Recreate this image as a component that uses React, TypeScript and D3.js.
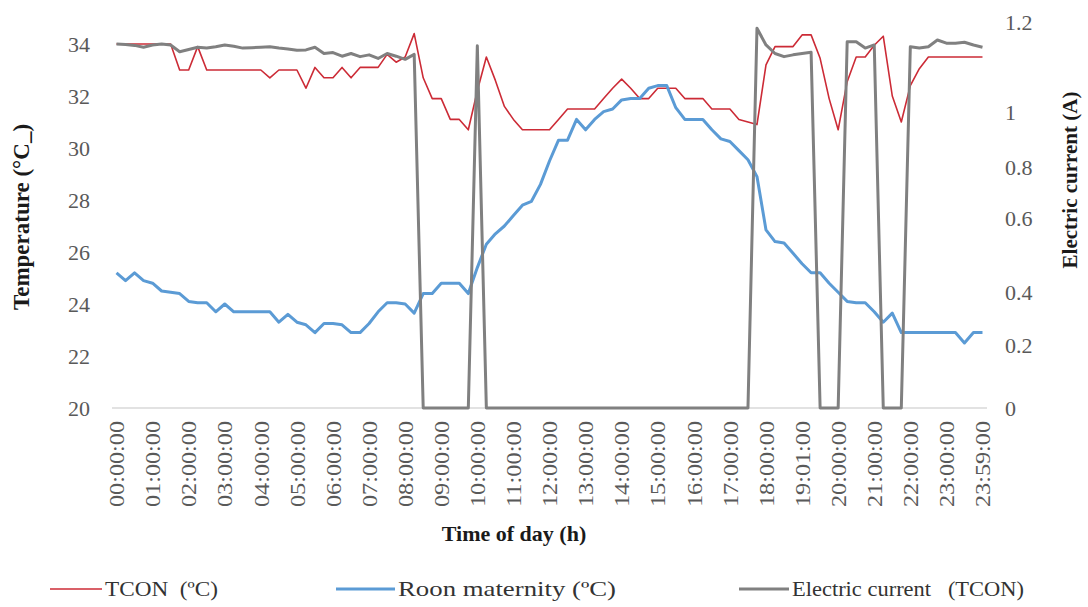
import React from 'react';
import * as d3 from 'd3';

const tickLabels = [
  '00:00:00', '01:00:00', '02:00:00', '03:00:00', '04:00:00', '05:00:00', '06:00:00',
  '07:00:00', '08:00:00', '09:00:00', '10:00:00', '11:00:00', '12:00:00', '13:00:00',
  '14:00:00', '15:00:00', '16:00:00', '17:00:00', '18:00:00', '19:01:00', '20:00:00',
  '21:00:00', '22:00:00', '23:00:00', '23:59:00',
];

const tcon = [
  34.0, 34.0, 34.0, 34.0, 34.0, 34.0, 34.0, 33.0, 33.0, 33.9,
  33.0, 33.0, 33.0, 33.0, 33.0, 33.0, 33.0, 32.7, 33.0, 33.0,
  33.0, 32.3, 33.1, 32.7, 32.7, 33.1, 32.7, 33.1, 33.1, 33.1,
  33.6, 33.3, 33.5, 34.4, 32.7, 31.9, 31.9, 31.1, 31.1, 30.7,
  32.2, 33.5, 32.6, 31.6, 31.1, 30.7, 30.7, 30.7, 30.7, 31.1,
  31.5, 31.5, 31.5, 31.5, 31.9, 32.3, 32.65, 32.3, 31.9, 31.9,
  32.3, 32.3, 32.3, 31.9, 31.9, 31.9, 31.5, 31.5, 31.5, 31.1,
  31.0, 30.9, 33.2, 33.9, 33.9, 33.9, 34.35, 34.35, 33.45, 31.9,
  30.7, 32.55, 33.5, 33.5, 33.95, 34.3, 32.0, 31.0, 32.4, 33.05,
  33.5, 33.5, 33.5, 33.5, 33.5, 33.5, 33.5,
];

const room = [
  25.2, 24.9, 25.2, 24.9, 24.8, 24.5, 24.45, 24.4, 24.1, 24.05,
  24.05, 23.7, 24.0, 23.7, 23.7, 23.7, 23.7, 23.7, 23.3, 23.6,
  23.3, 23.2, 22.9, 23.25, 23.25, 23.2, 22.9, 22.9, 23.25, 23.7,
  24.05, 24.05, 24.0, 23.65, 24.4, 24.4, 24.8, 24.8, 24.8, 24.4,
  25.4, 26.3, 26.7, 27.0, 27.4, 27.8, 27.95, 28.6, 29.5, 30.3,
  30.3, 31.1, 30.7, 31.1, 31.4, 31.5, 31.85, 31.9, 31.9, 32.3,
  32.4, 32.4, 31.55, 31.1, 31.1, 31.1, 30.7, 30.35, 30.25, 29.9,
  29.55, 28.9, 26.85, 26.4, 26.35, 25.95, 25.55, 25.2, 25.2, 24.8,
  24.45, 24.1, 24.05, 24.05, 23.7, 23.3, 23.65, 22.9, 22.9, 22.9,
  22.9, 22.9, 22.9, 22.9, 22.5, 22.9, 22.9,
];

const current = [
  1.151, 1.150, 1.148, 1.144, 1.149, 1.151, 1.149, 1.134, 1.139, 1.144,
  1.142, 1.145, 1.149, 1.146, 1.142, 1.143, 1.144, 1.145, 1.142, 1.140,
  1.137, 1.138, 1.144, 1.130, 1.132, 1.124, 1.130, 1.123, 1.127, 1.119,
  1.130, 1.124, 1.117, 1.128, 0, 0, 0, 0, 0, 0,
  1.147, 0, 0, 0, 0, 0, 0, 0, 0, 0,
  0, 0, 0, 0, 0, 0, 0, 0, 0, 0,
  0, 0, 0, 0, 0, 0, 0, 0, 0, 0,
  0, 1.186, 1.149, 1.130, 1.123, 1.127, 1.130, 1.133, 0, 0,
  0, 1.156, 1.156, 1.142, 1.149, 0, 0, 0, 1.145, 1.142,
  1.145, 1.160, 1.153, 1.153, 1.155, 1.149, 1.144,
];

const leftTicks = [20, 22, 24, 26, 28, 30, 32, 34];
const rightTicks = [0, 0.2, 0.4, 0.6, 0.8, 1, 1.2];

const seriesNames = ['TCON  (ºC)', 'Roon maternity (ºC)', 'Electric current   (TCON)'];

const FONT = '"Liberation Serif", "Times New Roman", serif';
const RED = '#cc2b36';
const BLUE = '#5b9bd5';
const GRAY = '#808080';

export default function App() {
  const W = 1088;
  const H = 607;
  const x = d3
    .scalePoint<number>()
    .domain(d3.range(tcon.length))
    .range([112, 987])
    .padding(0.5);
  const yL = d3.scaleLinear().domain([20, 34]).range([408, 44]);
  const yR = d3.scaleLinear().domain(rightTicks).range([408, 345, 292, 218, 167, 112, 22]);

  const lineL = d3
    .line<number>()
    .x((_, i) => x(i) as number)
    .y((d) => yL(d));
  const lineR = d3
    .line<number>()
    .x((_, i) => x(i) as number)
    .y((d) => yR(d));

  const legend = [
    { name: seriesNames[0], color: RED, w: 1.6, x0: 50, x1: 102, len: 113 },
    { name: seriesNames[1], color: BLUE, w: 3, x0: 336, x1: 395, len: 218 },
    { name: seriesNames[2], color: GRAY, w: 3, x0: 739, x1: 789, len: 232 },
  ];

  return (
    <svg
      width={W}
      height={H}
      style={{ position: 'absolute', left: 0, top: 0, background: '#fff' }}
      fontFamily={FONT}
    >
      <rect x={0} y={0} width={W} height={H} fill="#fff" />
      {/* bottom axis line */}
      <line x1={112} x2={987} y1={yL(20)} y2={yL(20)} stroke="#d9d9d9" strokeWidth={1.5} />

      {/* left ticks */}
      {leftTicks.map((t) => (
        <text key={'l' + t} x={90} y={yL(t)} dy="0.35em" textAnchor="end" fontSize={22} fill="#595959">
          {t}
        </text>
      ))}
      {/* right ticks */}
      {rightTicks.map((t) => (
        <text key={'r' + t} x={1005} y={yR(t)} dy="0.35em" textAnchor="start" fontSize={22} fill="#595959">
          {d3.format('~g')(t)}
        </text>
      ))}
      {/* x ticks */}
      {tickLabels.map((lab, k) => {
        const px = x(k * 4) as number;
        return (
          <text
            key={'x' + k}
            transform={`translate(${px},${421}) rotate(-90)`}
            dy="0.35em"
            textAnchor="end"
            fontSize={22}
            fill="#595959"
            textLength={86}
            lengthAdjust="spacingAndGlyphs"
          >
            {lab}
          </text>
        );
      })}

      {/* axis titles */}
      <text
        transform={`translate(29,217) rotate(-90)`}
        textAnchor="middle"
        fontSize={23}
        fontWeight="bold"
        fill="#1a1a1a"
      >
        Temperature (°C_)
      </text>
      <text
        transform={`translate(1077,180) rotate(-90)`}
        textAnchor="middle"
        fontSize={21}
        fontWeight="bold"
        fill="#1a1a1a"
      >
        Electric current  (A)
      </text>
      <text x={514} y={541} textAnchor="middle" fontSize={22} fontWeight="bold" fill="#1a1a1a">
        Time of day (h)
      </text>

      {/* series */}
      <path d={lineL(tcon) || ''} fill="none" stroke={RED} strokeWidth={1.6} strokeLinejoin="round" />
      <path d={lineL(room) || ''} fill="none" stroke={BLUE} strokeWidth={3} strokeLinejoin="round" />
      <path d={lineR(current) || ''} fill="none" stroke={GRAY} strokeWidth={3} strokeLinejoin="round" />

      {/* legend */}
      {legend.map((l) => (
        <g key={l.name}>
          <line x1={l.x0} x2={l.x1} y1={589} y2={589} stroke={l.color} strokeWidth={l.w} />
          <text
            x={l.x1 + 3}
            y={596}
            fontSize={22}
            fill="#333"
            style={{ whiteSpace: 'pre' }}
            textLength={l.len}
            lengthAdjust="spacingAndGlyphs"
          >
            {l.name}
          </text>
        </g>
      ))}
    </svg>
  );
}
